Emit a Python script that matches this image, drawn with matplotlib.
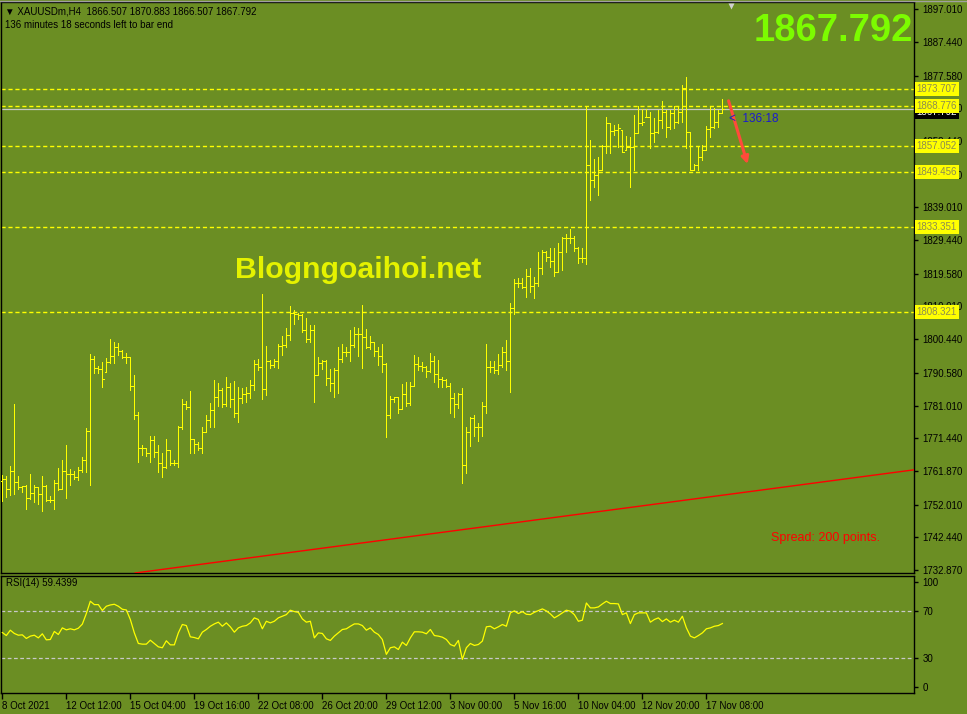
import matplotlib
matplotlib.use('Agg')
import matplotlib.pyplot as plt
import matplotlib.transforms as mtransforms
from matplotlib.collections import LineCollection
from matplotlib.lines import Line2D
import numpy as np

plt.rcParams['font.family'] = ['Liberation Sans', 'DejaVu Sans']
plt.rcParams['font.size'] = 7

# ---------------- data (XAUUSDm, H4) ----------------
opens = [
    1759.0, 1759.5, 1756.6, 1761.9, 1758.6, 1757.1, 1757.5, 1753.9, 1755.3, 1757.1,
    1755.0, 1757.5, 1753.3, 1753.3, 1758.3, 1756.7, 1761.8, 1760.9, 1761.1, 1760.2,
    1762.2, 1765.0, 1773.5, 1794.6, 1791.9, 1791.6, 1790.9, 1793.9, 1795.5, 1798.2,
    1797.0, 1795.3, 1795.1, 1786.7, 1778.3, 1768.5, 1768.5, 1767.2, 1770.9, 1767.5,
    1764.3, 1763.1, 1768.0, 1764.1, 1764.1, 1774.8, 1781.5, 1780.7, 1771.1, 1769.9,
    1768.5, 1773.4, 1776.8, 1779.7, 1783.4, 1785.6, 1781.5, 1786.5, 1782.8, 1778.8,
    1783.1, 1784.4, 1784.6, 1787.0, 1793.2, 1792.4, 1785.8, 1794.2, 1792.9, 1794.2,
    1798.5, 1798.8, 1801.7, 1808.2, 1807.8, 1807.5, 1803.1, 1800.4, 1803.1, 1790.0,
    1793.6, 1794.2, 1789.0, 1787.5, 1791.4, 1794.6, 1796.8, 1796.8, 1798.8, 1802.0,
    1802.0, 1801.0, 1798.1, 1799.7, 1797.1, 1795.5, 1793.2, 1778.3, 1782.8, 1783.4,
    1779.9, 1784.4, 1781.7, 1786.7, 1793.2, 1792.6, 1792.2, 1791.2, 1794.2, 1790.3,
    1788.7, 1788.5, 1786.7, 1783.1, 1781.5, 1784.4, 1763.6, 1773.4, 1777.3, 1774.8,
    1774.6, 1780.9, 1792.2, 1792.4, 1791.4, 1792.9, 1796.8, 1794.2, 1809.7, 1816.8,
    1816.8, 1815.8, 1819.0, 1816.1, 1816.8, 1821.4, 1826.1, 1824.6, 1823.3, 1820.0,
    1826.1, 1830.0, 1830.2, 1830.2, 1827.2, 1824.3, 1824.3, 1851.4, 1847.0, 1848.5,
    1850.0, 1857.0, 1863.8, 1861.5, 1861.7, 1861.7, 1855.8, 1856.6, 1856.8, 1860.9,
    1863.8, 1865.4, 1865.6, 1860.9, 1861.2, 1864.6, 1867.0, 1862.5, 1866.6, 1864.1,
    1867.0, 1873.9, 1861.2, 1850.0, 1851.4, 1853.7, 1855.8, 1861.9, 1862.6, 1864.1,
    1866.507]
highs = [
    1760.7, 1760.5, 1763.3, 1781.5, 1760.4, 1757.5, 1757.7, 1761.0, 1757.7, 1757.1,
    1760.4, 1757.7, 1754.5, 1759.2, 1762.7, 1765.1, 1769.5, 1762.4, 1761.8, 1762.9,
    1765.9, 1774.4, 1796.1, 1795.5, 1792.6, 1793.9, 1794.8, 1800.4, 1799.7, 1799.4,
    1797.3, 1796.5, 1795.1, 1790.0, 1779.2, 1769.5, 1768.7, 1772.1, 1772.1, 1769.5,
    1767.1, 1771.1, 1768.0, 1765.1, 1775.0, 1782.9, 1782.4, 1785.3, 1771.1, 1770.4,
    1774.8, 1778.3, 1781.9, 1788.5, 1787.7, 1786.1, 1789.3, 1787.5, 1788.3, 1786.4,
    1786.1, 1786.4, 1788.5, 1794.4, 1794.6, 1813.7, 1798.5, 1794.4, 1794.6, 1799.0,
    1801.4, 1803.6, 1810.2, 1809.0, 1808.0, 1807.8, 1806.5, 1804.6, 1804.6, 1795.1,
    1794.4, 1794.4, 1791.6, 1791.9, 1798.2, 1799.0, 1798.2, 1803.1, 1804.1, 1803.6,
    1810.5, 1803.3, 1801.4, 1799.7, 1798.2, 1799.0, 1793.4, 1783.8, 1783.6, 1783.6,
    1787.3, 1788.0, 1788.0, 1795.8, 1795.1, 1793.9, 1792.6, 1796.5, 1795.5, 1794.4,
    1789.5, 1788.7, 1787.5, 1784.6, 1784.8, 1786.1, 1774.8, 1777.6, 1778.3, 1775.8,
    1782.2, 1799.0, 1794.1, 1794.1, 1796.0, 1798.2, 1800.2, 1810.9, 1818.1, 1818.4,
    1818.3, 1821.0, 1821.2, 1818.7, 1826.1, 1826.6, 1826.3, 1827.0, 1827.2, 1828.5,
    1830.4, 1831.1, 1832.7, 1830.7, 1827.5, 1827.0, 1868.8, 1858.7, 1853.1, 1853.7,
    1857.3, 1865.6, 1863.8, 1863.1, 1863.4, 1861.7, 1859.9, 1859.7, 1866.1, 1868.7,
    1867.7, 1867.7, 1867.0, 1865.1, 1867.5, 1870.3, 1867.5, 1867.5, 1868.7, 1868.5,
    1874.8, 1877.3, 1861.2, 1851.7, 1856.8, 1857.3, 1862.8, 1868.3, 1868.0, 1867.5,
    1870.883]
lows = [
    1753.2, 1754.3, 1754.8, 1755.1, 1756.5, 1755.8, 1750.8, 1753.7, 1752.7, 1752.2,
    1750.2, 1753.2, 1752.7, 1750.6, 1756.3, 1756.6, 1753.9, 1757.8, 1759.4, 1759.2,
    1761.7, 1761.7, 1757.8, 1790.6, 1790.5, 1786.5, 1790.9, 1793.6, 1793.6, 1795.8,
    1794.8, 1793.6, 1785.6, 1777.0, 1764.6, 1766.6, 1766.3, 1764.6, 1766.0, 1761.7,
    1760.2, 1762.7, 1763.6, 1763.6, 1763.1, 1774.1, 1779.9, 1767.1, 1767.1, 1768.0,
    1767.1, 1773.4, 1774.8, 1774.7, 1780.9, 1780.7, 1780.9, 1780.7, 1777.8, 1776.3,
    1781.7, 1782.2, 1783.1, 1785.6, 1791.4, 1782.8, 1784.1, 1791.9, 1792.4, 1791.9,
    1795.8, 1798.2, 1800.2, 1804.9, 1806.3, 1802.6, 1799.7, 1799.7, 1782.2, 1790.0,
    1791.7, 1787.0, 1785.4, 1783.4, 1784.8, 1793.9, 1795.5, 1794.2, 1798.2, 1795.5,
    1791.9, 1797.8, 1797.5, 1795.5, 1792.9, 1790.9, 1771.9, 1777.3, 1782.2, 1778.9,
    1779.9, 1780.9, 1781.2, 1786.7, 1791.4, 1791.2, 1789.3, 1790.9, 1788.0, 1786.4,
    1786.4, 1786.5, 1778.9, 1777.8, 1780.2, 1758.4, 1761.4, 1769.2, 1772.1, 1770.7,
    1772.1, 1778.9, 1790.8, 1790.5, 1790.2, 1792.4, 1791.4, 1784.9, 1807.7, 1815.8,
    1815.3, 1812.9, 1814.2, 1812.4, 1816.1, 1819.4, 1823.3, 1821.7, 1819.0, 1820.0,
    1820.7, 1825.9, 1828.5, 1826.3, 1822.7, 1823.1, 1822.4, 1841.2, 1845.1, 1842.7,
    1850.0, 1854.9, 1854.9, 1860.2, 1856.8, 1855.3, 1855.8, 1845.1, 1850.0, 1860.7,
    1863.1, 1865.4, 1856.3, 1858.3, 1860.7, 1862.2, 1859.7, 1861.9, 1862.2, 1863.6,
    1864.1, 1856.3, 1850.0, 1850.0, 1850.0, 1852.9, 1855.8, 1859.7, 1862.2, 1862.6,
    1866.507]
closes = [
    1759.5, 1756.6, 1761.9, 1758.6, 1757.1, 1757.5, 1753.9, 1755.3, 1757.1, 1755.0,
    1757.5, 1753.3, 1753.3, 1758.3, 1756.7, 1761.8, 1760.9, 1761.1, 1760.2, 1762.2,
    1765.0, 1773.5, 1794.6, 1791.9, 1791.6, 1788.7, 1793.9, 1795.5, 1798.2, 1797.0,
    1795.3, 1795.1, 1786.7, 1778.3, 1768.5, 1768.5, 1767.2, 1770.9, 1767.5, 1764.3,
    1763.1, 1768.0, 1764.1, 1764.1, 1774.8, 1781.5, 1780.7, 1771.1, 1769.9, 1768.5,
    1773.4, 1776.8, 1779.7, 1783.4, 1785.6, 1781.5, 1786.5, 1782.8, 1778.8, 1783.1,
    1784.4, 1784.6, 1787.0, 1793.2, 1792.4, 1785.8, 1794.2, 1792.9, 1794.2, 1798.5,
    1798.8, 1801.7, 1808.2, 1807.8, 1807.5, 1803.1, 1800.4, 1803.1, 1790.0, 1793.6,
    1794.2, 1789.0, 1787.5, 1791.4, 1794.6, 1796.8, 1796.8, 1798.8, 1802.0, 1802.0,
    1801.0, 1798.1, 1799.7, 1797.1, 1795.5, 1793.2, 1778.3, 1782.8, 1783.4, 1779.9,
    1784.4, 1781.7, 1786.7, 1793.2, 1792.6, 1792.2, 1791.2, 1794.2, 1790.3, 1788.7,
    1788.5, 1786.7, 1783.1, 1781.5, 1784.4, 1763.6, 1773.4, 1777.3, 1774.8, 1774.6,
    1780.9, 1792.2, 1792.4, 1791.4, 1792.9, 1796.8, 1794.2, 1809.7, 1816.8, 1816.8,
    1815.8, 1819.0, 1816.1, 1816.8, 1821.4, 1826.1, 1824.6, 1823.3, 1820.0, 1826.1,
    1830.0, 1830.2, 1830.2, 1827.2, 1824.3, 1824.3, 1851.4, 1847.0, 1848.5, 1850.0,
    1857.0, 1863.8, 1861.5, 1861.7, 1862.2, 1855.3, 1856.6, 1856.8, 1860.9, 1863.8,
    1864.1, 1865.6, 1860.9, 1861.2, 1864.6, 1867.0, 1862.5, 1866.6, 1864.1, 1867.0,
    1873.9, 1861.2, 1850.0, 1851.4, 1853.7, 1855.8, 1861.9, 1862.6, 1864.1, 1866.6,
    1867.792]
rsi_values = [
    51.7, 49.1, 53.7, 50.9, 49.4, 49.7, 46.6, 48.6, 49.4, 47.1,
    50.6, 45.4, 45.7, 52.6, 50.0, 55.7, 54.0, 54.9, 54.0, 55.4,
    58.9, 68.0, 78.6, 75.7, 75.7, 70.6, 74.3, 75.4, 76.0, 74.3,
    71.7, 71.1, 62.9, 51.4, 42.3, 41.7, 41.7, 45.1, 42.3, 39.4,
    38.6, 44.6, 41.1, 41.1, 51.4, 58.6, 57.7, 48.0, 47.4, 46.3,
    52.0, 54.3, 57.1, 59.1, 60.6, 57.1, 60.0, 56.6, 52.0, 55.7,
    57.1, 57.7, 60.0, 64.3, 62.9, 54.9, 61.4, 60.0, 61.4, 64.3,
    65.7, 67.1, 70.9, 69.7, 69.1, 63.4, 60.6, 61.4, 47.1, 51.4,
    50.9, 46.3, 44.9, 48.6, 51.4, 54.3, 54.9, 57.1, 59.1, 59.1,
    57.7, 53.7, 55.7, 52.0, 50.0, 45.7, 32.9, 38.6, 39.4, 37.1,
    43.4, 40.6, 47.1, 52.3, 52.3, 52.0, 50.6, 54.3, 49.1, 48.6,
    47.7, 45.7, 41.4, 40.0, 44.9, 28.6, 38.6, 42.3, 40.6, 41.4,
    44.3, 56.6, 57.1, 54.9, 56.6, 58.6, 57.1, 68.6, 70.3, 68.0,
    69.7, 67.4, 67.1, 69.1, 70.6, 72.0, 70.3, 67.7, 64.3, 66.3,
    68.6, 70.9, 70.0, 67.1, 61.4, 62.3, 77.1, 72.9, 72.9, 73.7,
    76.3, 78.6, 76.6, 76.6, 76.3, 67.1, 68.6, 59.4, 67.1, 68.6,
    68.6, 68.6, 60.6, 62.9, 64.3, 61.1, 63.4, 60.6, 62.3, 60.6,
    65.7, 55.7, 48.6, 47.1, 49.1, 51.4, 54.9, 55.7, 57.1, 57.7,
    59.4399]

price_ticks = [1897.010, 1887.440, 1877.580, 1868.010, 1858.440, 1848.580, 1839.010,
               1829.440, 1819.580, 1810.010, 1800.440, 1790.580, 1781.010, 1771.440,
               1761.870, 1752.010, 1742.440, 1732.870]
level_lines = [1873.707, 1868.776, 1857.052, 1849.456, 1833.351, 1808.321]
bid_price = 1867.792
date_tick_bars = [0, 16, 32, 48, 64, 80, 96, 112, 128, 144, 160, 176]
date_tick_labels = ["8 Oct 2021", "12 Oct 12:00", "15 Oct 04:00", "19 Oct 16:00",
                    "22 Oct 08:00", "26 Oct 20:00", "29 Oct 12:00", "3 Nov 00:00",
                    "5 Nov 16:00", "10 Nov 04:00", "12 Nov 20:00", "17 Nov 08:00"]
trend_bars = [33.2, 227.9]
trend_prices = [1732.0, 1762.2]
arrow_start = (181.35, 1871.0)
arrow_end = (186.5, 1850.9)

# ---------------- styling ----------------
BG = '#6B8E23'
YEL = '#FFFF00'
W, H = 967, 714
fig = plt.figure(figsize=(W / 100, H / 100), dpi=100, facecolor=BG)

def fx(px):
    return px / W

def fy(py):
    return 1 - py / H

ax = fig.add_axes([fx(1), fy(573), fx(914) - fx(1), fy(2) - fy(573)], facecolor=BG)
rax = fig.add_axes([fx(1), fy(693), fx(914) - fx(1), fy(576) - fy(693)], facecolor=BG)

XMIN, XMAX = -0.33, 227.9
for a in (ax, rax):
    a.set_xlim(XMIN, XMAX)
    for s in a.spines.values():
        s.set_color('black')
        s.set_linewidth(1.0)

ax.set_ylim(1732.0, 1899.14)
rax.set_ylim(-0.3, 100.3)

# OHLC bars
segs = []
for i, (o, h, l, c) in enumerate(zip(opens, highs, lows, closes)):
    segs.append([(i, l), (i, h)])
    segs.append([(i - 0.4, o), (i, o)])
    segs.append([(i, c), (i + 0.4, c)])
lc = LineCollection(segs, colors=YEL, linewidths=0.5, antialiaseds=False, zorder=4)
ax.add_collection(lc)

# horizontal levels
for lv in level_lines:
    ax.axhline(lv, color=YEL, lw=1.0, ls=(0, (3, 2)), zorder=2)
ax.axhline(bid_price, color='#C8C8C8', lw=0.9, zorder=2.2)

# trend line
ax.plot(trend_bars, trend_prices, color='#FF0000', lw=1.0, zorder=3)

# arrow
ax.annotate('', xy=arrow_end, xytext=arrow_start,
            arrowprops=dict(arrowstyle='-|>,head_length=0.6,head_width=0.3',
                            color='#FF4A3A', lw=2.2), zorder=6)

# price axis
ax.set_xticks([])
ax.yaxis.tick_right()
ax.set_yticks(price_ticks)
ax.set_yticklabels([f"{p:.3f}" for p in price_ticks])
ax.tick_params(axis='y', direction='out', length=3, width=1, pad=3, labelsize=7,
               colors='black')

btrans = mtransforms.blended_transform_factory(ax.transAxes, ax.transData)
ax.text(1.0 + 2.5 / 913, bid_price - 0.9, f"{bid_price:.3f}", transform=btrans, ha='left',
        va='center', fontsize=7, color='white', clip_on=False, zorder=7,
        bbox=dict(boxstyle='square,pad=0.2', fc='black', ec='none'))
for lv in level_lines:
    ax.text(1.0 + 2.5 / 913, lv, f"{lv:.3f}", transform=btrans, ha='left', va='center',
            fontsize=7, color='#8C8C50', clip_on=False, zorder=8,
            bbox=dict(boxstyle='square,pad=0.2', fc=YEL, ec='none'))

# texts in main chart
ax.text((913 - 1) / 913, 1 - (41 - 2) / 571, f"{bid_price:.3f}", transform=ax.transAxes,
        ha='right', va='baseline', fontsize=27.5, fontweight='bold', color='#7CFC00',
        zorder=6)
ax.text((235 - 1) / 913, (573 - 278.5) / 571, "Blogngoaihoi.net", transform=ax.transAxes,
        ha='left', va='baseline', fontsize=21.8, fontweight='bold', color='#E5F200',
        zorder=6)
ax.text((771 - 1) / 913, (573 - 540.5) / 571, "Spread: 200 points.", transform=ax.transAxes,
        ha='left', va='baseline', fontsize=9, color='#FF0000', zorder=6)
ax.text(181.6, 1864.9, "<  136:18", ha='left', va='center', fontsize=8.5,
        color='#1A1AD0', zorder=6)
ax.plot([(731 - 1) / 913], [1 - (6 - 2) / 571], marker='v', ms=5, color='#D0D0D0',
        transform=ax.transAxes, clip_on=False, zorder=6, mec='none')

fig.text(fx(5), fy(11.5), "\u25BC XAUUSDm,H4  1866.507 1870.883 1866.507 1867.792",
         ha='left', va='center', fontsize=7, color='black')
fig.text(fx(5), fy(24.5), "136 minutes 18 seconds left to bar end",
         ha='left', va='center', fontsize=7, color='black')

# RSI panel
idx = np.arange(len(rsi_values))
rax.plot(idx, rsi_values, color=YEL, lw=0.9, zorder=3)
for lv in (70, 30):
    rax.axhline(lv, color='#C8C8C8', lw=0.9, ls=(0, (3, 2)), zorder=2)
rax.yaxis.tick_right()
rax.set_yticks([95, 70, 30, 5])
rax.set_yticklabels(['100', '70', '30', '0'])
rax.tick_params(axis='y', direction='out', length=3, width=1, pad=3, labelsize=7)
rax.text(5 / 913, 1 - (583 - 576) / 117, "RSI(14) 59.4399", transform=rax.transAxes,
         ha='left', va='center', fontsize=7, color='black')

rax.set_xticks(date_tick_bars)
rax.set_xticklabels(date_tick_labels)
rax.tick_params(axis='x', direction='out', length=4, width=1, pad=2, labelsize=7)
for lab in rax.get_xticklabels():
    lab.set_horizontalalignment('left')

# window top border
fig.add_artist(Line2D([0, 1], [fy(0.5), fy(0.5)], color='#A0A0A0', lw=1.0,
                      transform=fig.transFigure))

fig.savefig('out.png', dpi=100, facecolor=BG)
